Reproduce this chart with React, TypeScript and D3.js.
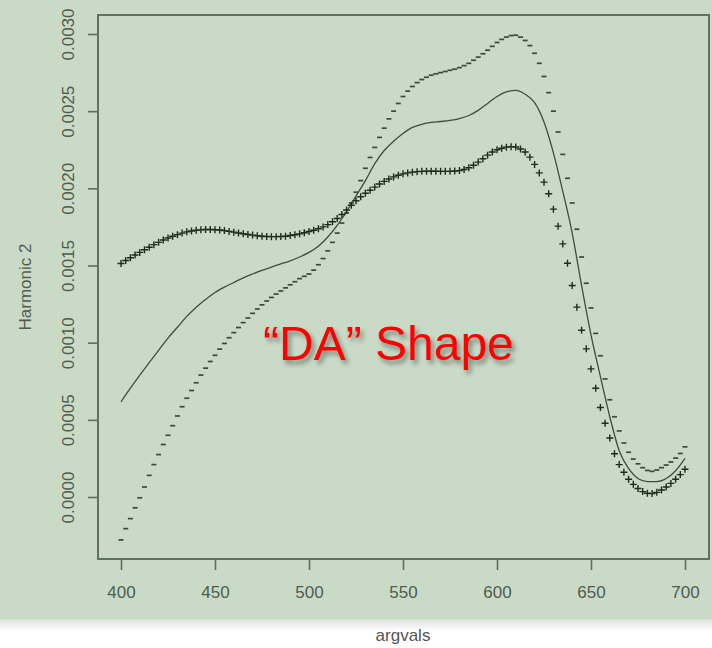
import * as d3 from 'd3';
import { useEffect, useRef } from 'react';

// argvals grids: +/- curves are sampled every 2.5, the mean curve every 5
const markerArgvals = d3.range(400, 700.01, 2.5);
const meanArgvals = d3.range(400, 700.01, 5);

// all values below are in units of 1e-4
const plusValues = [
  15.13, 15.32, 15.5, 15.68, 15.85, 16.02, 16.18, 16.35, 16.5, 16.65,
  16.78, 16.9, 17.0, 17.1, 17.18, 17.24, 17.28, 17.31, 17.33, 17.33,
  17.32, 17.3, 17.26, 17.21, 17.16, 17.11, 17.06, 17.01, 16.97, 16.93,
  16.9, 16.88, 16.87, 16.87, 16.88, 16.9, 16.94, 16.99, 17.05, 17.12,
  17.2, 17.28, 17.38, 17.5, 17.65, 17.83, 18.05, 18.3, 18.6, 18.9,
  19.2, 19.45, 19.68, 19.88, 20.08, 20.28, 20.45, 20.6, 20.74, 20.85,
  20.94, 21.0, 21.05, 21.08, 21.1, 21.11, 21.11, 21.11, 21.1, 21.1,
  21.1, 21.12, 21.15, 21.22, 21.33, 21.5, 21.7, 21.92, 22.15, 22.35,
  22.5, 22.6, 22.67, 22.7, 22.68, 22.55, 22.35, 22.02, 21.55, 21.0,
  20.4, 19.65, 18.65, 17.55, 16.4, 15.15, 13.7, 12.3, 10.8, 9.6,
  8.3, 7.05, 5.8, 4.78, 3.82, 2.8, 2.1, 1.6, 1.15, 0.82,
  0.55, 0.35, 0.24, 0.22, 0.3, 0.45, 0.65, 0.88, 1.15, 1.45,
  1.8,
];

const minusValues = [
  -2.78, -2.05, -1.4, -0.7, -0.05, 0.65, 1.4, 2.1, 2.75, 3.4,
  4.0, 4.62, 5.25, 5.85, 6.4, 6.9, 7.4, 7.9, 8.35, 8.78,
  9.18, 9.58, 9.95, 10.32, 10.65, 10.98, 11.3, 11.6, 11.9, 12.18,
  12.45, 12.7, 12.93, 13.15, 13.35, 13.55, 13.75, 13.95, 14.15, 14.3,
  14.45, 14.7, 15.05, 15.45, 15.95, 16.5, 17.1, 17.75, 18.4, 19.05,
  19.75, 20.5, 21.3, 22.0, 22.65, 23.3, 23.9, 24.5, 25.0, 25.5,
  25.95, 26.3, 26.6, 26.85, 27.05, 27.2, 27.33, 27.42, 27.5, 27.57,
  27.65, 27.72, 27.82, 27.95, 28.1, 28.3, 28.5, 28.72, 28.95, 29.2,
  29.45, 29.65, 29.8, 29.9, 29.92, 29.8, 29.58, 29.25, 28.75, 28.1,
  27.25, 26.2, 25.0, 23.65, 22.2, 20.65, 19.05, 17.35, 15.55, 13.85,
  12.25, 10.6, 9.15, 7.65, 6.3, 5.2, 4.28, 3.5, 2.9, 2.46,
  2.15, 1.9, 1.72, 1.66, 1.75, 1.9, 2.07, 2.27, 2.52, 2.82,
  3.25,
];

const meanValues = [
  6.17, 7.05, 7.9, 8.7, 9.5, 10.3, 11.0, 11.7, 12.3, 12.8,
  13.25, 13.6, 13.9, 14.2, 14.45, 14.68, 14.9, 15.1, 15.3, 15.55,
  15.85, 16.25, 16.85, 17.6, 18.5, 19.5, 20.5, 21.6, 22.45, 23.05,
  23.55, 23.95, 24.15, 24.27, 24.33, 24.4, 24.52, 24.72, 25.05, 25.5,
  25.95, 26.25, 26.35, 26.1, 25.55, 24.3, 22.3, 19.8, 17.1, 13.7,
  10.5, 7.8, 5.2, 3.0, 1.85, 1.2, 1.0, 1.0, 1.2, 1.7,
  2.5,
];

const xTicks = [400, 450, 500, 550, 600, 650, 700];
const yTicks = [0, 5, 10, 15, 20, 25, 30];
const yTickLabels = ['0.0000', '0.0005', '0.0010', '0.0015', '0.0020', '0.0025', '0.0030'];

const font = "'Liberation Sans', Arial, Helvetica, sans-serif";

function App() {
  const svgElement = useRef<SVGSVGElement | null>(null);

  useEffect(() => {
    if (!svgElement.current) return;
    const svg = d3.select(svgElement.current);
    svg.selectAll('*').remove();

    const x = d3.scaleLinear().domain([400, 700]).range([121, 685]);
    const y = d3.scaleLinear().domain([0, 30]).range([497, 34]);

    const defs = svg.append('defs');
    const grad = defs
      .append('linearGradient')
      .attr('id', 'fade')
      .attr('x1', 0)
      .attr('y1', 0)
      .attr('x2', 0)
      .attr('y2', 1);
    grad.append('stop').attr('offset', '0%').attr('stop-color', '#dedede');
    grad.append('stop').attr('offset', '100%').attr('stop-color', '#ffffff');

    defs
      .append('filter')
      .attr('id', 'shadow')
      .attr('x', '-10%')
      .attr('y', '-20%')
      .attr('width', '130%')
      .attr('height', '160%')
      .append('feDropShadow')
      .attr('dx', 3)
      .attr('dy', 4)
      .attr('stdDeviation', 2.5)
      .attr('flood-color', '#000')
      .attr('flood-opacity', 0.4);

    // backgrounds
    svg.append('rect').attr('width', 712).attr('height', 648).attr('fill', '#ffffff');
    svg.append('rect').attr('width', 712).attr('height', 619).attr('fill', '#c9dbc7');
    svg.append('rect').attr('y', 619).attr('width', 712).attr('height', 12).attr('fill', 'url(#fade)');

    // axes
    const xAxis = svg
      .append('g')
      .attr('transform', 'translate(0,559)')
      .call(d3.axisBottom(x).tickValues(xTicks).tickSize(11).tickPadding(16));
    xAxis.select('.domain').remove();

    const yAxis = svg
      .append('g')
      .attr('transform', 'translate(98,0)')
      .call(
        d3
          .axisLeft(y)
          .tickValues(yTicks)
          .tickSize(10)
          .tickFormat((d, i) => yTickLabels[i]),
      );
    yAxis.select('.domain').remove();
    yAxis
      .selectAll('text')
      .attr('x', 0)
      .attr('dy', 0)
      .attr('text-anchor', 'middle')
      .attr('transform', 'translate(-24,0) rotate(-90)');

    [xAxis, yAxis].forEach((g) => {
      g.attr('font-family', font).attr('font-size', 17);
      g.selectAll('line').attr('stroke', '#5b6f5b').attr('stroke-width', 1.6);
      g.selectAll('text').attr('fill', '#4f5c4f');
    });

    // plot box
    svg
      .append('rect')
      .attr('x', 98)
      .attr('y', 15)
      .attr('width', 611)
      .attr('height', 544)
      .attr('fill', 'none')
      .attr('stroke', '#5e725e')
      .attr('stroke-width', 2);

    // mean curve
    const line = d3
      .line<number>()
      .x((d) => x(d))
      .y((d, i) => y(meanValues[i]))
      .curve(d3.curveMonotoneX);
    svg
      .append('path')
      .attr('d', line(meanArgvals) as string)
      .attr('fill', 'none')
      .attr('stroke', '#3c4e3c')
      .attr('stroke-width', 1.3);

    // mean - harmonic ("-")
    svg
      .append('g')
      .selectAll('path')
      .data(markerArgvals)
      .join('path')
      .attr('transform', (d, i) => `translate(${x(d)},${y(minusValues[i])})`)
      .attr('d', 'M-2.5,0H2.5')
      .attr('stroke', '#3a4a3a')
      .attr('stroke-width', 1.7);

    // mean + harmonic ("+")
    svg
      .append('g')
      .selectAll('path')
      .data(markerArgvals)
      .join('path')
      .attr('transform', (d, i) => `translate(${x(d)},${y(plusValues[i])})`)
      .attr('d', 'M-3.5,0H3.5M0,-3.5V3.5')
      .attr('stroke', '#1d2d1d')
      .attr('stroke-width', 1.4);

    // axis titles
    svg
      .append('text')
      .attr('x', 403)
      .attr('y', 641)
      .attr('text-anchor', 'middle')
      .attr('font-family', font)
      .attr('font-size', 17)
      .attr('fill', '#555')
      .text('argvals');

    svg
      .append('text')
      .attr('transform', 'translate(31,287) rotate(-90)')
      .attr('text-anchor', 'middle')
      .attr('font-family', font)
      .attr('font-size', 17)
      .attr('fill', '#4f5c4f')
      .text('Harmonic 2');

    // annotation
    svg
      .append('text')
      .attr('x', 263)
      .attr('y', 360)
      .attr('font-family', font)
      .attr('font-size', 48)
      .attr('fill', '#ff0000')
      .attr('filter', 'url(#shadow)')
      .text('\u201CDA\u201D Shape');
  }, []);

  return (
    <svg
      ref={svgElement}
      width={712}
      height={648}
      style={{ position: 'absolute', left: 0, top: 0 }}
    />
  );
}

export default App;
